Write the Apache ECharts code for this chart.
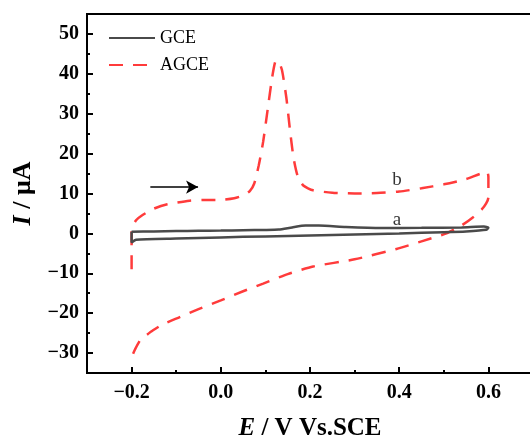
<!DOCTYPE html>
<html>
<head>
<meta charset="utf-8">
<script src="https://cdn.jsdelivr.net/npm/echarts@6/dist/echarts.min.js"></script>
<style>
  html, body { margin: 0; padding: 0; background: #fff; }
  #chart { width: 530px; height: 443px; }
</style>
</head>
<body>
<div id="chart"></div>
<script>
// CV curves (E in V vs SCE, I in uA)
const gceE = [-0.2, -0.15, -0.1, -0.05, 0.0, 0.05, 0.1, 0.13, 0.16, 0.19, 0.22, 0.28, 0.36, 0.45, 0.54, 0.59, 0.6, 0.595, 0.55, 0.5, 0.4, 0.3, 0.2, 0.1, 0.0, -0.1, -0.19, -0.2, -0.2]
const gceI = [0.4, 0.5, 0.6, 0.65, 0.7, 0.8, 0.85, 0.95, 1.5, 1.95, 1.95, 1.6, 1.35, 1.4, 1.5, 1.7, 1.4, 0.9, 0.5, 0.3, 0.0, -0.25, -0.5, -0.75, -1.0, -1.3, -1.6, -2.3, 0.4]

const agceE = [-0.2, -0.2, -0.2, -0.19, -0.177, -0.15, -0.12, -0.07, -0.03, 0.0, 0.03, 0.05, 0.065, 0.075, 0.085, 0.095, 0.105, 0.115, 0.122, 0.128, 0.137, 0.147, 0.155, 0.163, 0.172, 0.185, 0.207, 0.25, 0.3, 0.35, 0.4, 0.45, 0.5, 0.55, 0.597, 0.6, 0.6, 0.595, 0.585, 0.565, 0.54, 0.506, 0.45, 0.394, 0.3, 0.207, 0.15, 0.095, 0.05, 0.0, -0.05, -0.092, -0.13, -0.152, -0.17, -0.181, -0.192, -0.2]
const agceI = [-9, -2, 1, 3.3, 4.5, 6.2, 7.3, 8.2, 8.4, 8.4, 8.8, 9.5, 10.6, 12.5, 17, 23, 31, 39, 43, 43.3, 41, 34, 26, 19, 14.5, 12, 10.8, 10.2, 10.0, 10.1, 10.5, 11.3, 12.3, 13.6, 15.4, 14, 9, 7.5, 6, 4, 2, 0, -2, -3.9, -6.5, -8.3, -10.2, -12.6, -14.5, -16.8, -19, -21, -22.8, -24.3, -25.8, -26.8, -29, -31]

const seriesNames = ['GCE', 'AGCE']
const curveLabels = ['a', 'b']
const curveLabelE = [0.395, 0.395]
const curveLabelI = [3.3, 13.3]
const arrowStart = [-0.158, 11.6]
const arrowEnd = [-0.051, 11.6]

const xTicks = [-0.2, 0.0, 0.2, 0.4, 0.6]
const xMinorTicks = [-0.1, 0.1, 0.3, 0.5]
const yTicks = [-30, -20, -10, 0, 10, 20, 30, 40, 50]
const yMinorTicks = [-25, -15, -5, 5, 15, 25, 35, 45]

const font = '"Liberation Serif", "Times New Roman", serif'

const zip = (a, b) => a.map((v, i) => [v, b[i]])

const chart = echarts.init(document.getElementById('chart'))

const baseX = { type: 'value', min: -0.3, max: 0.7, position: 'bottom' }
const baseY = { type: 'value', min: -35, max: 55, position: 'left' }

const nameStyle = (size) => ({
  fontFamily: font, fontSize: size, fontWeight: 'bold', color: '#000',
  rich: { i: { fontFamily: font, fontSize: size, fontWeight: 'bold', fontStyle: 'italic', color: '#000' } },
})

chart.setOption({
  animation: false,
  backgroundColor: '#fff',
  textStyle: { fontFamily: font },
  grid: {
    left: 87, top: 14, width: 446, height: 359,
    show: true, borderColor: '#000', borderWidth: 2,
    outerBoundsMode: 'none', containLabel: false,
  },
  legend: {
    data: seriesNames,
    orient: 'vertical',
    left: 103, top: 24,
    itemWidth: 46, itemHeight: 14, itemGap: 9,
    itemStyle: { color: 'transparent', borderWidth: 0, opacity: 0 },
    textStyle: { fontFamily: font, fontSize: 18, color: '#000' },
  },
  xAxis: [
    {
      ...baseX,
      name: '{i|E} / V Vs.SCE',
      nameLocation: 'middle',
      nameGap: 43,
      nameTextStyle: nameStyle(25),
      axisLine: { onZero: false, lineStyle: { color: '#000', width: 2 } },
      axisTick: { inside: true, length: 6, lineStyle: { width: 2 }, customValues: xTicks },
      axisLabel: {
        customValues: xTicks, margin: 10,
        fontFamily: font, fontSize: 20, fontWeight: 'bold', color: '#000',
        formatter: (v) => (v < 0 ? '\u2212' : '') + Math.abs(v).toFixed(1),
      },
      splitLine: { show: false },
    },
    {
      ...baseX,
      axisLine: { show: false, onZero: false },
      axisTick: { inside: true, length: 3, lineStyle: { width: 2, color: '#000' }, customValues: xMinorTicks },
      axisLabel: { show: false },
      splitLine: { show: false },
    },
  ],
  yAxis: [
    {
      ...baseY,
      name: '{i|I} / \u03bcA',
      nameLocation: 'middle',
      nameGap: 49,
      nameRotate: 90,
      nameTextStyle: nameStyle(26),
      axisLine: { onZero: false, lineStyle: { color: '#000', width: 2 } },
      axisTick: { inside: true, length: 6, lineStyle: { width: 2 }, customValues: yTicks },
      axisLabel: {
        customValues: yTicks, margin: 8,
        fontFamily: font, fontSize: 20, fontWeight: 'bold', color: '#000',
        formatter: (v) => (v < 0 ? '\u2212' : '') + Math.abs(v),
      },
      splitLine: { show: false },
    },
    {
      ...baseY,
      axisLine: { show: false, onZero: false },
      axisTick: { inside: true, length: 3, lineStyle: { width: 2, color: '#000' }, customValues: yMinorTicks },
      axisLabel: { show: false },
      splitLine: { show: false },
    },
  ],
  series: [
    {
      name: seriesNames[0],
      type: 'line',
      data: zip(gceE, gceI),
      symbol: 'none',
      smooth: 0.2,
      lineStyle: { color: '#4a4a4a', width: 2.5 },
      itemStyle: { color: '#4a4a4a' },
      z: 3,
    },
    {
      name: seriesNames[1],
      type: 'line',
      data: zip(agceE, agceI),
      symbol: 'none',
      smooth: 0.2,
      lineStyle: { color: '#ff3b3b', width: 2.5, type: [14, 10] },
      itemStyle: { color: '#ff3b3b' },
      z: 2,
    },
    {
      name: 'labels',
      type: 'scatter',
      symbolSize: 0,
      data: curveLabels.map((t, i) => ({ value: [curveLabelE[i], curveLabelI[i]], name: t })),
      label: {
        show: true, position: 'inside', formatter: '{b}',
        fontFamily: font, fontSize: 19, color: '#000',
      },
      markLine: {
        silent: true,
        symbol: ['none', 'arrow'],
        symbolSize: [10, 12],
        label: { show: false },
        lineStyle: { color: '#000', width: 1.5, type: 'solid' },
        data: [[{ coord: arrowStart }, { coord: arrowEnd }]],
      },
      z: 4,
    },
  ],
})
</script>
</body>
</html>
